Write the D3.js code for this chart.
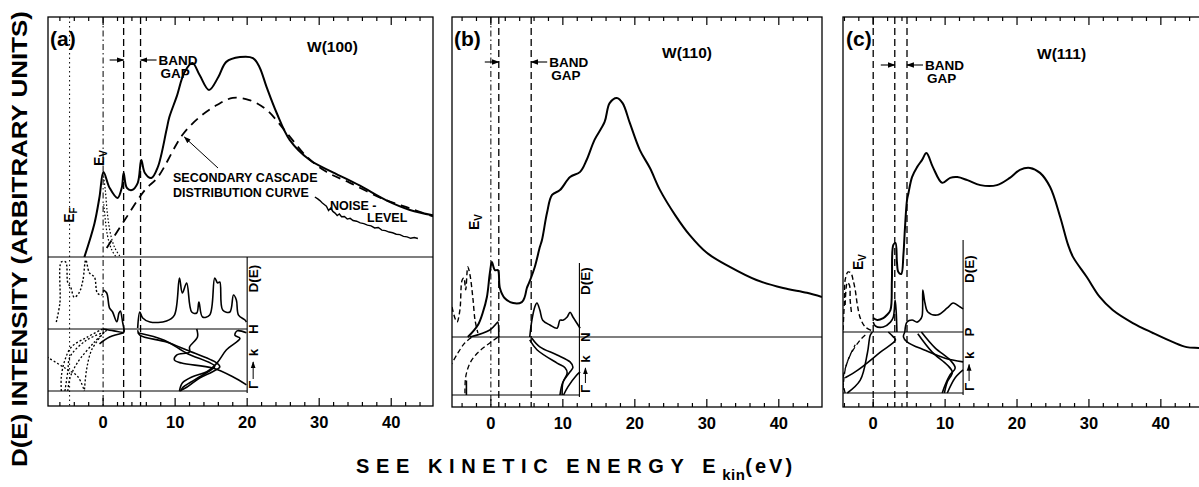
<!DOCTYPE html>
<html><head><meta charset="utf-8">
<script src="https://cdn.jsdelivr.net/npm/d3@7/dist/d3.min.js"></script>
<style>
html,body{margin:0;padding:0;background:#fff;}
svg{display:block;}
text{font-family:"Liberation Sans",Arial,sans-serif;font-weight:bold;fill:#000;}
</style></head>
<body>
<svg id="chart" width="1199" height="487"></svg>
<script>
// ---------------- DATA ----------------
const tickLabels = [0, 10, 20, 30, 40];
const panelLabels = ["(a)", "(b)", "(c)"];
const panelTitles = ["W(100)", "W(110)", "W(111)"];
const symPoints = ["H", "N", "P"];

// Panel (a) W(100): measured SEE spectrum [E (eV), intensity]
const aMain = [[-2.6,0],[-1.2,14],[-0.5,25],[0.05,35.4],[0.9,28.8],[2.0,24.6],[2.6,29],[2.85,35],[3.3,28.8],[4.0,27.9],[4.8,30.8],[5.3,40.4],[5.8,35],[6.7,32.9],[7.6,37.5],[8.8,52.9],[9.2,58.3],[10.2,66.7],[11.3,77],[12.4,80.8],[13.4,75.8],[14.7,69.6],[16,75],[17.1,81.3],[19,83.3],[20.8,82.9],[21.7,79.2],[22.7,70.8],[24.1,60],[25.9,48.8],[28.7,40.4],[31.9,35.3],[35.6,29.8],[39.4,23.5],[42.6,19.6],[45.8,17.4]];
const aCascade = [[0.5,3.75],[3.0,15.4],[5.8,27.9],[7.6,33.3],[11.0,50.8],[13.4,58.3],[15.8,63.3],[18.0,66.3],[20.3,65.4],[22.7,61.3],[25.5,51.7],[28.3,41.7],[31.0,35.5],[34.2,31],[38.8,24.3],[42.6,20.3],[45.8,16.9]];
const aNoise = [[29.4,25],[29.8,24.2],[30.1,23.5],[30.4,22.6],[30.7,21.9],[31.0,21.2],[31.3,19.4],[31.6,20.4],[31.9,19.0],[32.2,18.3],[32.5,17.3],[32.8,17.9],[33.1,16.8],[33.5,16.9],[33.9,15.8],[34.3,16.1],[34.7,15.2],[35.2,14.9],[35.7,14.2],[36.2,13.9],[36.7,13.3],[37.2,13.0],[37.7,12.1],[38.2,12.3],[38.7,11.2],[39.2,11.0],[39.7,10.4],[40.2,10.1],[40.7,9.5],[41.2,9.3],[41.7,8.6],[42.2,8.4],[42.7,7.8],[43.2,8.1],[43.7,7.7]];
const aEvDotted = [[[0.0,35],[0.3,28],[0.6,18],[1.0,10],[1.6,4],[2.4,0]],[[0.1,22],[0.6,9],[1.2,3],[1.8,0]]];
// Panel (a) density of states D(E)
const aDosSolid = [
  [[0.07,54],[0.5,50],[0.9,29],[1.3,24],[1.9,10],[2.2,22],[2.4,25],[2.7,10],[2.9,0]],
  [[4.8,1.4],[5.1,23.6],[5.5,15.3],[6.5,9.7],[8.8,11.1],[9.9,19.4],[10.6,70.8],[11.0,50],[11.6,63.9],[12.3,23.6],[13.0,22.2],[13.3,37.5],[13.8,16.7],[14.8,19.4],[15.5,70.8],[15.9,63.9],[16.2,65.3],[16.6,26.4],[17.6,23.6],[18.1,47.2],[18.5,40.3],[18.8,19.4],[19.7,12.5],[19.9,9.7]]
];
const aDosDotted = [[[-6.5,9.7],[-6.0,36],[-5.8,93],[-5.2,93],[-4.9,64],[-4.5,58],[-4.0,44],[-3.3,51],[-2.8,68],[-2.4,96],[-1.9,78],[-1.2,72],[-0.8,50],[-0.2,47],[0.07,54]]];
// Panel (a) bands [E (eV), k (Gamma=0 .. H=1)]
const aBandsSolid = [
  [[4.8,0.98],[5.1,0.90],[8.8,0.79],[11.6,0.66],[15.8,0.45],[16.2,0.39],[15.2,0.31],[13.4,0.21],[11.6,0.06],[10.6,0]],
  [[4.8,0.94],[8.5,0.82],[11.6,0.61],[15.5,0.40],[15.0,0.34],[12.7,0.18],[11.0,0.05],[10.8,0]],
  [[13.0,1.0],[13.1,0.87],[12.0,0.71],[12.0,0.63],[10.2,0.58],[9.9,0.5],[10.9,0.45],[15.2,0.37],[18.0,0.23],[19.9,0.10]],
  [[19.9,0.94],[18.6,0.97],[18.3,0.90],[19.0,0.85],[17.1,0.66],[15.8,0.45],[14.4,0.31],[12.4,0.23],[11.0,0.13],[10.6,0]],
  [[0.0,1.0],[1.5,0.97],[2.9,0.95],[2.9,1.0]],
  [[2.9,0.94],[0.9,0.87],[-0.5,0.76]]
];
const aBandsDotted = [
  [[-0.07,1.0],[-2.2,0.87],[-4.4,0.71],[-5.3,0.5],[-5.8,0.23],[-5.8,0.0]],
  [[0.2,0.95],[-2.3,0.82],[-4.6,0.55],[-4.9,0.31],[-5.3,0.0]],
  [[0.5,0.98],[-1.2,0.79],[-3.6,0.45],[-4.6,0.21],[-4.9,0.0]],
  [[-7.8,0.55],[-5.3,0.37],[-3.5,0.23],[-2.6,0.0]],
  [[-0.2,0.9],[-1.6,0.66],[-2.3,0.34],[-2.6,0.0]]
];
const aLines = [{e:-4.65,s:"dot"},{e:0,s:"dashdot"},{e:2.85,s:"dash"},{e:5.2,s:"dash"}];
const aGap = [2.85, 5.2];

// Panel (b) W(110)
const bMain = [[-3.2,0],[-1.8,3.75],[-1.1,7.8],[-0.55,12.5],[-0.14,20],[0.14,23.4],[0.56,20.9],[0.97,20.9],[1.25,15.3],[1.9,12.2],[3.1,10.6],[4.3,10.9],[4.7,12.5],[5.0,15.3],[5.3,16.9],[6.1,21.9],[6.8,28.1],[7.1,30.3],[7.8,38.8],[8.5,44.4],[9.6,45.9],[11.0,50],[12.4,51.6],[13.3,55.3],[14.4,61.6],[15.8,67.2],[16.5,73.1],[17.5,74.7],[18.3,73.1],[19.3,66.9],[20.7,58.4],[22.1,52.8],[23.5,45.9],[25.6,38.1],[27.6,31.9],[30.0,26.3],[33.2,21.9],[36.9,17.8],[40.6,15.3],[43.9,13.8],[46.0,12.5]];
const bDosSolid = [
  [[-2.9,0],[-0.14,8.75],[0.83,17.5],[0.97,18.75],[1.1,0]],
  [[5.4,0],[5.7,21],[6.1,37.5],[6.4,42.5],[6.8,33.8],[7.2,21],[8.2,15],[9.2,11],[9.6,21],[10,21],[10.6,25],[11,31],[11.4,25],[12.4,11]]
];
const bDosDashed = [[[-5.4,37.5],[-5.0,23.8],[-4.7,18.8],[-4.3,33.8],[-4.0,71],[-3.75,74],[-3.5,59],[-3.2,87.5],[-2.9,77.5],[-2.5,48.8],[-2.2,21],[-1.8,5]]];
const bBandsSolid = [
  [[5.7,0.98],[6.8,0.83],[9.2,0.69],[11.0,0.57],[11.4,0.48],[11.0,0.40],[10.0,0.22],[9.6,0.0]],
  [[5.4,0.95],[6.4,0.78],[9.2,0.55],[10.3,0.47],[10.6,0.38],[10.0,0.21],[9.9,0.0]],
  [[12.4,0.40],[11.9,0.34],[10.7,0.14],[10.1,0.0]],
  [[-3.4,0.25],[-3.4,0.0]]
];
const bBandsDashed = [
  [[-5.7,0.48],[-4.6,0.72],[-3.6,0.9],[-2.6,1.0]],
  [[-3.6,0.03],[-3.5,0.31],[-2.9,0.55],[-1.9,0.72],[-0.55,0.86],[1.0,1.0]]
];
const bLines = [{e:0,s:"dashdot"},{e:1.1,s:"dash"},{e:5.6,s:"dash"}];
const bGap = [1.1, 5.6];

// Panel (c) W(111)
const cMain = [[0.0,21.4],[0.56,20.9],[1.4,21.4],[1.9,22.2],[2.4,23.5],[2.6,31.3],[2.8,40.5],[3.1,41],[3.3,36],[3.5,33.4],[3.9,32.9],[4.2,37.9],[4.4,44.4],[4.7,52.2],[4.9,54],[5.4,58.2],[6.1,60.8],[6.8,62.7],[7.4,64.5],[8.3,60.8],[9.6,56.7],[10.7,58],[11.7,58.2],[13.1,57.4],[14.9,56.1],[17.2,56.1],[19.0,58],[20.4,60.1],[21.8,60.6],[23.2,59.3],[24.6,55.6],[26.0,47.8],[27.1,40.5],[27.8,37.3],[29.7,32.1],[31.5,26.9],[33.3,23.5],[36.1,20.1],[38.9,17.5],[41.7,15.1],[43.6,13.8],[45.3,13.6],[46.0,13.4]];
const cDosSolid = [
  [[0,11],[0.3,6.7],[1.4,5.6],[2.4,11],[2.8,16.7],[3.05,35.6],[3.2,22],[3.3,0]],
  [[4.4,0],[4.7,11],[5.4,13.3],[6.1,11],[6.5,13.3],[6.8,17.8],[6.9,46.7],[7.2,32.2],[7.6,22.2],[8.9,18.9],[10.3,26.7],[11.1,32.2],[12.1,27.8],[12.5,25.6]]
];
const cDosDashed = [
  [[-4.2,2.2],[-4.0,35.6],[-3.9,57.8],[-3.5,66.7],[-3.1,65.6],[-2.8,57.8],[-2.5,46.7],[-2.2,30],[-1.8,15.6],[-1.1,5.6],[-0.1,1.1]],
  [[-3.9,30],[-3.6,55],[-3.3,52],[-3.2,35],[-3.0,20]]
];
const cBandsSolid = [
  [[-3.6,0],[-1.8,0.21],[-0.8,0.66],[-0.4,0.95],[-0.1,1.0]],
  [[2.1,1.0],[2.8,0.92],[3.1,0.87],[1.0,0.67],[-2.1,0.38],[-3.9,0.25]],
  [[4.4,1.0],[4.2,0.92],[4.7,0.84],[7.2,0.70],[10,0.57],[12.5,0.51]],
  [[6.7,1.0],[8.6,0.74],[10.7,0.54],[11.4,0.41],[10.7,0.30],[10,0.13],[9.6,0]],
  [[6.2,0.97],[8.2,0.67],[10.3,0.46],[11,0.34],[10.3,0.18],[9.9,0]],
  [[12.5,0.38],[11.4,0.25],[10.3,0]]
];
const cBandsDashed = [
  [[-4.2,0.05],[-3.9,0.38],[-3.2,0.62],[-1.8,0.87],[-1.1,0.95]],
  [[-3.9,0],[-4.2,0.21],[-3.5,0.54],[-2.5,0.79]]
];
const cLines = [{e:0,s:"dash"},{e:3.0,s:"dash"},{e:4.7,s:"dash"}];
const cGap = [3.0, 4.7];

// ---------------- LAYOUT ----------------
const layout = [
  {dom:[-7.65,45.8], x0:48, x1:433, top:17, bot:406, mainBase:257, dosTop:257, symY:329, gamY:391, insetE:20,
   main:aMain, dosS:aDosSolid, dosD:aDosDotted, dosDash:"2,2", bandS:aBandsSolid, bandD:aBandsDotted, bandDash:"2,2", lines:aLines, gap:aGap,
   insetVTop:257, symFull:false, baseFull:true, gapY:60, evPos:[99,158], labPos:[50,46], titlePos:[307,52]},
  {dom:[-5.4,46], x0:452, x1:822, top:17, bot:407, mainBase:337, dosTop:257, symY:337, gamY:395, insetE:12.3,
   main:bMain, dosS:bDosSolid, dosD:bDosDashed, dosDash:"5,3", bandS:bBandsSolid, bandD:bBandsDashed, bandDash:"5,3", lines:bLines, gap:bGap,
   insetVTop:263, symFull:true, baseFull:false, gapY:62, evPos:[474,222], labPos:[454,46], titlePos:[662,58]},
  {dom:[-4.2,46], x0:843, x1:1204, top:17, bot:407, mainBase:400, dosTop:242, symY:332, gamY:393, insetE:12.5,
   main:cMain, dosS:cDosSolid, dosD:cDosDashed, dosDash:"5,3", bandS:cBandsSolid, bandD:cBandsDashed, bandDash:"5,3", lines:cLines, gap:cGap,
   insetVTop:240, symFull:false, baseFull:false, gapY:65, evPos:[858,262], labPos:[846,46], titlePos:[1037,59]}
];

const svg = d3.select("#chart");
const defs = svg.append("defs");
defs.append("marker").attr("id","ah").attr("viewBox","0 0 10 10").attr("refX",9).attr("refY",5)
  .attr("markerWidth",7).attr("markerHeight",7).attr("orient","auto-start-reverse")
  .append("path").attr("d","M0,1.5 L10,5 L0,8.5 Z").attr("fill","#000");

const dashStyle = {dot:"1.5,3", dashdot:"6,3,1.5,3", dash:"7,4"};

layout.forEach((P, i) => {
  const x = d3.scaleLinear().domain(P.dom).range([P.x0, P.x1]);
  const yMain = d3.scaleLinear().domain([0,100]).range([P.mainBase, P.top]);
  const yDos = d3.scaleLinear().domain([0,100]).range([P.symY, P.dosTop]);
  const yK = d3.scaleLinear().domain([0,1]).range([P.gamY, P.symY]);
  const g = svg.append("g");
  const clipId = "clip"+i;
  defs.append("clipPath").attr("id",clipId).append("rect")
    .attr("x",P.x0).attr("y",P.top).attr("width",P.x1-P.x0).attr("height",P.bot-P.top);

  // frame
  g.append("rect").attr("x",P.x0).attr("y",P.top).attr("width",P.x1-P.x0).attr("height",P.bot-P.top)
    .attr("fill","none").attr("stroke","#000").attr("stroke-width",1.3);

  // ticks
  const minor = d3.range(Math.ceil(P.dom[0]/2)*2, P.dom[1], 2);
  minor.forEach(t => {
    const L = (t % 10 === 0) ? 8 : 4;
    g.append("line").attr("x1",x(t)).attr("x2",x(t)).attr("y1",P.bot).attr("y2",P.bot-L).attr("stroke","#000").attr("stroke-width",1.2);
    g.append("line").attr("x1",x(t)).attr("x2",x(t)).attr("y1",P.top).attr("y2",P.top+L).attr("stroke","#000").attr("stroke-width",1.2);
  });
  tickLabels.forEach(t => {
    g.append("text").attr("x",x(t)).attr("y",P.bot+22).attr("text-anchor","middle")
      .attr("font-size",16.5).text(t);
  });

  const gc = g.append("g").attr("clip-path","url(#"+clipId+")");

  // vertical energy lines
  P.lines.forEach(l => {
    gc.append("line").attr("x1",x(l.e)).attr("x2",x(l.e)).attr("y1",P.top).attr("y2",P.bot)
      .attr("stroke","#000").attr("stroke-width",l.s==="dash"?1.3:1).attr("stroke-dasharray",dashStyle[l.s]);
  });

  // inset frame lines
  const xr = x(P.insetE);
  gc.append("line").attr("x1",P.x0).attr("x2",P.symFull?P.x1:xr).attr("y1",P.symY).attr("y2",P.symY).attr("stroke","#000").attr("stroke-width",1.1);
  gc.append("line").attr("x1",P.x0).attr("x2",xr).attr("y1",P.gamY).attr("y2",P.gamY).attr("stroke","#000").attr("stroke-width",1.1);
  gc.append("line").attr("x1",xr).attr("x2",xr).attr("y1",P.insetVTop).attr("y2",P.gamY+2).attr("stroke","#000").attr("stroke-width",1.1);
  if (P.baseFull) gc.append("line").attr("x1",P.x0).attr("x2",P.x1).attr("y1",P.mainBase).attr("y2",P.mainBase).attr("stroke","#000").attr("stroke-width",1.1);

  const lineMain = d3.line().x(d=>x(d[0])).y(d=>yMain(d[1])).curve(d3.curveCatmullRom.alpha(0.5));
  const lineDos = d3.line().x(d=>x(d[0])).y(d=>yDos(d[1])).curve(d3.curveCatmullRom.alpha(0.5));
  const lineBand = d3.line().x(d=>x(d[0])).y(d=>yK(d[1])).curve(d3.curveCatmullRom.alpha(0.5));

  // DOS
  P.dosS.forEach(s => gc.append("path").attr("d",lineDos(s)).attr("fill","none").attr("stroke","#000").attr("stroke-width",1.6));
  P.dosD.forEach(s => gc.append("path").attr("d",lineDos(s)).attr("fill","none").attr("stroke","#000").attr("stroke-width",1.4).attr("stroke-dasharray",P.dosDash));
  // bands
  P.bandS.forEach(s => gc.append("path").attr("d",lineBand(s)).attr("fill","none").attr("stroke","#000").attr("stroke-width",1.6));
  P.bandD.forEach(s => gc.append("path").attr("d",lineBand(s)).attr("fill","none").attr("stroke","#000").attr("stroke-width",1.3).attr("stroke-dasharray",P.bandDash));
  // main spectrum
  gc.append("path").attr("d",lineMain(P.main)).attr("fill","none").attr("stroke","#000").attr("stroke-width",2);

  if (i === 0) {
    gc.append("path").attr("d",lineMain(aCascade)).attr("fill","none").attr("stroke","#000").attr("stroke-width",1.8).attr("stroke-dasharray","9,6");
    gc.append("path").attr("d",d3.line().x(d=>x(d[0])).y(d=>yMain(d[1]))(aNoise)).attr("fill","none").attr("stroke","#000").attr("stroke-width",1.4);
    aEvDotted.forEach(s => gc.append("path").attr("d",lineMain(s)).attr("fill","none").attr("stroke","#000").attr("stroke-width",1.2).attr("stroke-dasharray","1.5,2"));
    // annotations
    const ax = x(11.0), ay = yMain(50.8);
    g.append("line").attr("x1",218).attr("y1",168).attr("x2",ax+2).attr("y2",ay+2).attr("stroke","#000").attr("stroke-width",1).attr("marker-end","url(#ah)");
    g.append("text").attr("x",173).attr("y",182).attr("font-size",12.5).text("SECONDARY CASCADE");
    g.append("text").attr("x",173).attr("y",197).attr("font-size",12.5).text("DISTRIBUTION CURVE");
    g.append("text").attr("x",330).attr("y",210).attr("font-size",12.5).text("NOISE -");
    g.append("text").attr("x",367).attr("y",222).attr("font-size",12.5).text("LEVEL");
    // E_F label
    const ef = g.append("text").attr("transform","translate(74,215) rotate(-90)").attr("text-anchor","middle").attr("font-size",14);
    ef.append("tspan").text("E");
    ef.append("tspan").attr("font-size",10).attr("dy",3).text("F");
  }

  // E_V label
  const ev = g.append("text").attr("transform","translate("+(P.evPos[0]+5)+","+P.evPos[1]+") rotate(-90)").attr("text-anchor","middle").attr("font-size",14);
  ev.append("tspan").text("E");
  ev.append("tspan").attr("font-size",10).attr("dy",3).text("V");

  // band gap arrows
  const gx0 = x(P.gap[0]), gx1 = x(P.gap[1]);
  g.append("line").attr("x1",gx0-14).attr("x2",gx0).attr("y1",P.gapY).attr("y2",P.gapY).attr("stroke","#000").attr("stroke-width",1.1).attr("marker-end","url(#ah)");
  g.append("line").attr("x1",gx1+16).attr("x2",gx1).attr("y1",P.gapY).attr("y2",P.gapY).attr("stroke","#000").attr("stroke-width",1.1).attr("marker-end","url(#ah)");
  g.append("text").attr("x",gx1+18).attr("y",P.gapY+5).attr("font-size",13.5).text("BAND");
  g.append("text").attr("x",gx1+20).attr("y",P.gapY+18).attr("font-size",13.5).text("GAP");

  // panel label and title
  g.append("text").attr("x",P.labPos[0]).attr("y",P.labPos[1]).attr("font-size",21).text(panelLabels[i]);
  g.append("text").attr("x",P.titlePos[0]).attr("y",P.titlePos[1]).attr("font-size",15.5).text(panelTitles[i]);

  // inset side labels (rotated)
  const lx = xr + 11;
  g.append("text").attr("transform","translate("+lx+","+(yDos(70))+") rotate(-90)").attr("text-anchor","middle").attr("font-size",13.5).text("D(E)");
  g.append("text").attr("transform","translate("+lx+","+P.symY+") rotate(-90)").attr("text-anchor","middle").attr("font-size",13.5).text(symPoints[i]);
  g.append("text").attr("transform","translate("+lx+","+(P.gamY-2)+") rotate(-90)").attr("text-anchor","start").attr("font-size",13.5).text("Γ");
  g.append("line").attr("x1",lx-5).attr("x2",lx-5).attr("y1",P.gamY-12).attr("y2",yK(0.5)+2).attr("stroke","#000").attr("stroke-width",1).attr("marker-end","url(#ah)");
  g.append("text").attr("transform","translate("+lx+","+(yK(0.62))+") rotate(-90)").attr("text-anchor","middle").attr("font-size",13.5).text("k");
});

// axis titles
svg.append("text").attr("transform","translate(27,239) rotate(-90)").attr("text-anchor","middle")
  .attr("font-size",22).attr("textLength",456).attr("lengthAdjust","spacingAndGlyphs")
  .text("D(E) INTENSITY (ARBITRARY UNITS)");
const xt = svg.append("text").attr("x",356).attr("y",473).attr("font-size",20).attr("letter-spacing",6.6);
xt.append("tspan").text("SEE  KINETIC  ENERGY E");
xt.append("tspan").attr("font-size",15).attr("dy",7).attr("letter-spacing",0.5).text("kin");
xt.append("tspan").attr("dy",-7).attr("letter-spacing",3).text("(eV)");
</script>
</body></html>
